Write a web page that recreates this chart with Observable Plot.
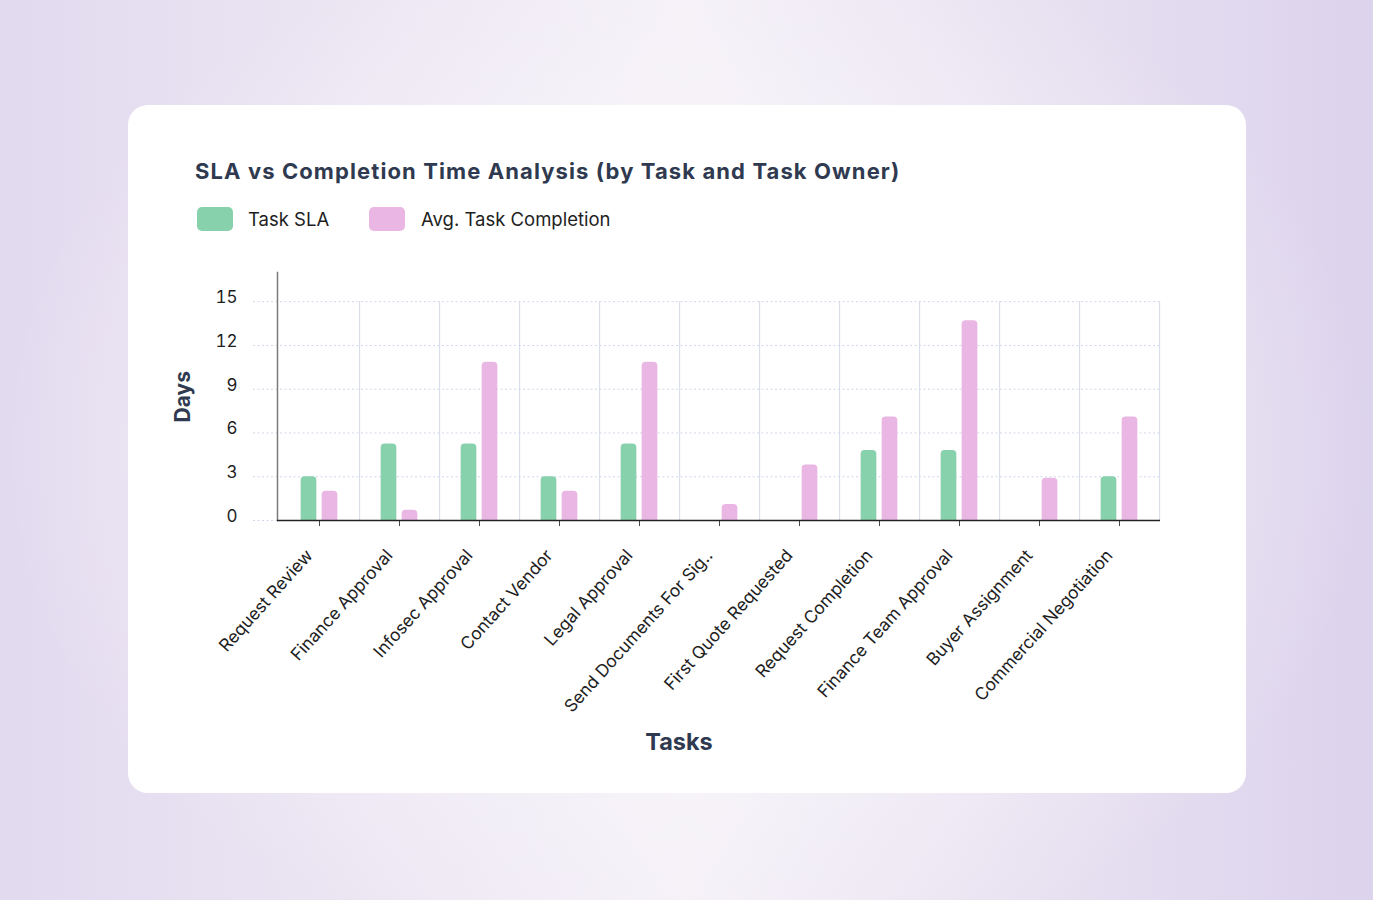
<!DOCTYPE html>
<html>
<head>
<meta charset="utf-8">
<script src="https://cdn.jsdelivr.net/npm/d3@7"></script>
<script src="https://cdn.jsdelivr.net/npm/@observablehq/plot@0.6"></script>
<style>
  html, body { margin: 0; padding: 0; }
  body {
    width: 1373px; height: 900px; position: relative; overflow: hidden;
    font-family: Inter, "Noto Sans", sans-serif;
    background:
      radial-gradient(ellipse 50% 60% at 50% 50%, rgba(251,249,251,1) 0%, rgba(251,249,251,0) 100%),
      linear-gradient(90deg, #e2daef 0%, #f4f0f7 50%, #dcd3ec 100%);
  }
  #card {
    position: absolute; left: 128px; top: 105px; width: 1118px; height: 688px;
    background: #ffffff; border-radius: 20px;
  }
  #title {
    position: absolute; left: 67px; top: 55px; font-size: 22px; line-height: 22px;
    font-weight: 700; color: #2f3a50; white-space: nowrap; letter-spacing: 1.1px;
  }
  .sw { position: absolute; width: 36px; height: 24px; border-radius: 5px; top: 102px; }
  .lg { position: absolute; top: 103px; font-size: 18.5px; line-height: 22px; color: #1e1e1e; white-space: nowrap; }
  #chart { position: absolute; left: 0; top: 145px; }
</style>
</head>
<body>
<div id="card">
  <div id="title">SLA vs Completion Time Analysis (by Task and Task Owner)</div>
  <div class="sw" id="sw1" style="left:69px"></div>
  <div class="lg" id="lg1" style="left:120px"></div>
  <div class="sw" id="sw2" style="left:241px"></div>
  <div class="lg" id="lg2" style="left:293px"></div>
  <div id="chart"></div>
</div>
<script>
const tasks = [
  "Request Review", "Finance Approval", "Infosec Approval", "Contact Vendor",
  "Legal Approval", "Send Documents For Sig..", "First Quote Requested",
  "Request Completion", "Finance Team Approval", "Buyer Assignment", "Commercial Negotiation"
];
const taskSLA        = [3, 5.25, 5.25, 3, 5.25, 0, 0, 4.8, 4.8, 0, 3];
const avgCompletion  = [2, 0.7, 10.85, 2, 10.85, 1.1, 3.8, 7.1, 13.7, 2.9, 7.1];
const seriesNames    = ["Task SLA", "Avg. Task Completion"];
const seriesColors   = ["#88d1ad", "#eab6e4"];
const yTicks         = [0, 3, 6, 9, 12, 15];

document.getElementById("sw1").style.background = seriesColors[0];
document.getElementById("sw2").style.background = seriesColors[1];
document.getElementById("lg1").textContent = seriesNames[0];
document.getElementById("lg2").textContent = seriesNames[1];

const W = 1118, H = 543, ml = 149, mr = 86, mt = 22, mb = 273;
const step = (W - ml - mr) / tasks.length;
const barW = 16, gap = 5;
const inset = (step - barW) / 2;
const off = (barW + gap) / 2;

const sla = tasks.map((t, i) => ({task: t, value: taskSLA[i]})).filter(d => d.value > 0);
const comp = tasks.map((t, i) => ({task: t, value: avgCompletion[i]})).filter(d => d.value > 0);

const plot = Plot.plot({
  width: W, height: H,
  marginLeft: ml, marginRight: mr, marginTop: mt, marginBottom: mb,
  style: {fontFamily: "Inter, 'Noto Sans', sans-serif", background: "transparent", overflow: "visible"},
  x: {type: "band", domain: tasks, padding: 0, label: null},
  y: {domain: [0, 17], label: null},
  marks: [
    Plot.ruleY(yTicks, {stroke: "#d4d5ec", strokeDasharray: "2,2.5", strokeWidth: 1, insetLeft: -24}),
    Plot.ruleX(tasks, {x: d => d, y1: 0, y2: 15, dx: step / 2, stroke: "#d5d9e8", strokeWidth: 1}),
    Plot.barY(sla, {x: "task", y: "value", fill: seriesColors[0], dx: -off, insetLeft: inset, insetRight: inset, insetBottom: -6, rx: 4, clip: true}),
    Plot.barY(comp, {x: "task", y: "value", fill: seriesColors[1], dx: off, insetLeft: inset, insetRight: inset, insetBottom: -6, rx: 4, clip: true}),
    Plot.axisY({ticks: yTicks, tickSize: 0, tickPadding: 40, fontSize: 17, fill: "#1e1e1e", dy: -4, label: null}),
    Plot.axisX({tickSize: 6, tickFormat: () => "", stroke: "#444", label: null}),
    Plot.axisX({tickSize: 0, tickRotate: -48, tickPadding: 26, fontSize: 17.3, fill: "#1e1e1e", dx: -10, dy: 6, label: null}),
    Plot.frame({anchor: "left", stroke: "#7a7a7a", strokeWidth: 1.5}),
    Plot.ruleY([0], {stroke: "#222", strokeWidth: 1.5}),
    Plot.text(["Days"], {frameAnchor: "left", dx: -94, dy: 26, rotate: -90, fontSize: 21, fontWeight: 700, fill: "#2f3a50"}),
    Plot.text(["Tasks"], {frameAnchor: "bottom", dx: -40, dy: 229, fontSize: 23.5, fontWeight: 700, fill: "#2f3a50"})
  ]
});
document.getElementById("chart").appendChild(plot);
</script>
</body>
</html>
